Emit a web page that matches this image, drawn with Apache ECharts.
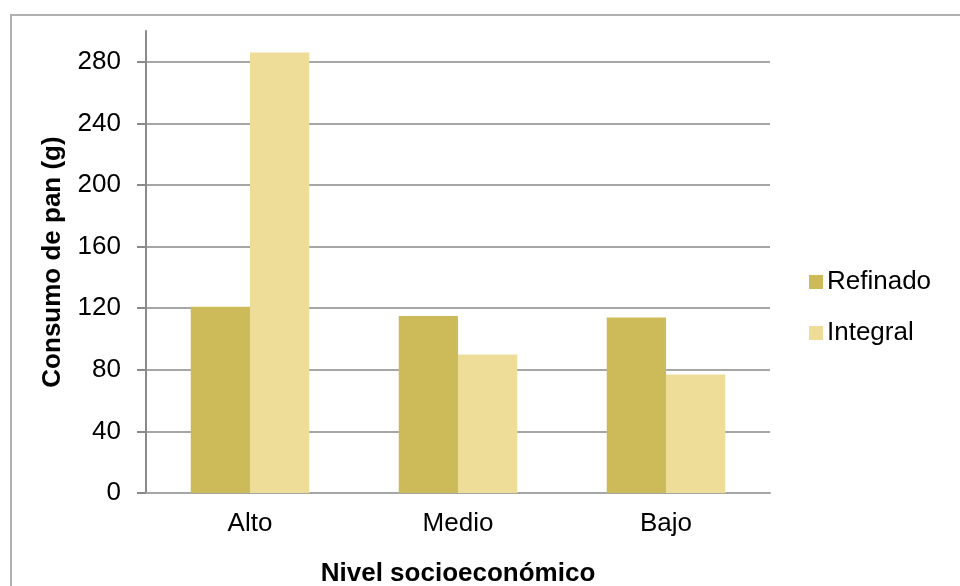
<!DOCTYPE html>
<html>
<head>
<meta charset="utf-8">
<script src="https://cdn.jsdelivr.net/npm/echarts@6/dist/echarts.min.js"></script>
<style>
  html, body { margin: 0; padding: 0; background: #fff; }
  #chart { width: 960px; height: 586px; }
</style>
</head>
<body>
<div id="chart"></div>
<script>
// Consumo de pan por nivel socioeconómico
const categories = ['Alto', 'Medio', 'Bajo'];
const refinado = [121, 115, 114];
const integral = [286, 90, 77];
const yTicks = [0, 40, 80, 120, 160, 200, 240, 280];

const FONT = '"Liberation Sans", Arial, sans-serif';
const chart = echarts.init(document.getElementById('chart'), null, { renderer: 'canvas' });

chart.setOption({
  backgroundColor: '#ffffff',
  animation: false,
  textStyle: { fontFamily: FONT },
  graphic: [{
    type: 'rect',
    shape: { x: 11, y: 15, width: 980, height: 620 },
    style: { fill: 'none', stroke: '#b0b0b0', lineWidth: 2 },
    silent: true,
    z: -1
  }],
  grid: { left: 146, right: 190, top: 31, bottom: 93, outerBoundsMode: 'none', containLabel: false },
  legend: {
    orient: 'vertical',
    left: 804,
    top: 264,
    icon: 'rect',
    itemWidth: 14,
    itemHeight: 14,
    itemGap: 25,
    textStyle: { fontSize: 26, color: '#000', fontFamily: FONT, padding: [0, 0, 0, -1] },
    data: ['Refinado', 'Integral']
  },
  xAxis: {
    type: 'category',
    data: categories,
    name: 'Nivel socioeconómico',
    nameLocation: 'middle',
    nameGap: 68,
    nameTextStyle: { fontSize: 26, fontWeight: 'bold', color: '#000', fontFamily: FONT },
    axisLine: { show: true, lineStyle: { color: '#a6a6a6', width: 2 } },
    axisTick: { show: false },
    axisLabel: { fontSize: 26, color: '#000', margin: 18, fontFamily: FONT }
  },
  yAxis: {
    type: 'value',
    min: 0,
    max: 300,
    interval: 20,
    name: 'Consumo de pan (g)',
    nameLocation: 'middle',
    nameGap: 80,
    nameTextStyle: { fontSize: 26, fontWeight: 'bold', color: '#000', fontFamily: FONT },
    axisLine: { show: true, lineStyle: { color: '#8a8a8a', width: 2 } },
    axisTick: {
      show: true, inside: false, length: 9,
      customValues: yTicks,
      lineStyle: { color: '#8a8a8a', width: 2 }
    },
    axisLabel: {
      fontSize: 26, color: '#000', margin: 25, fontFamily: FONT,
      customValues: yTicks
    },
    splitLine: { show: true, lineStyle: { color: '#a6a6a6', width: 2 } }
  },
  series: [
    {
      name: 'Refinado',
      type: 'bar',
      data: refinado,
      barGap: '0%',
      barCategoryGap: '43%',
      itemStyle: { color: '#cdbb5a' }
    },
    {
      name: 'Integral',
      type: 'bar',
      data: integral,
      itemStyle: { color: '#eedd99' }
    }
  ]
});
</script>
</body>
</html>
